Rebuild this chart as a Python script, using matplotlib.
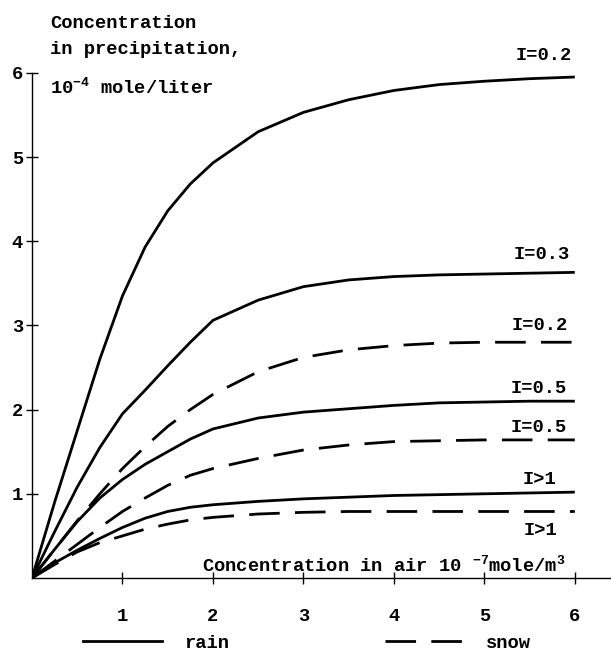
import matplotlib
matplotlib.use('Agg')
import matplotlib.pyplot as plt
from matplotlib.lines import Line2D

plt.rcParams['font.family'] = ['Liberation Mono', 'DejaVu Sans Mono']
plt.rcParams['font.weight'] = 'bold'
plt.rcParams['mathtext.default'] = 'regular'
plt.rcParams['lines.scale_dashes'] = False

# concentration in air (10^-7 mole/m^3)
x = [0, 0.25, 0.5, 0.75, 1, 1.25, 1.5, 1.75, 2, 2.5, 3, 3.5, 4, 4.5, 5, 5.5, 6]

# concentration in precipitation (10^-4 mole/liter)
rain_i02 = [0, 0.9, 1.75, 2.6, 3.35, 3.93, 4.36, 4.68, 4.93, 5.3, 5.53, 5.68, 5.79, 5.86, 5.9, 5.93, 5.95]
rain_i03 = [0, 0.55, 1.08, 1.55, 1.95, 2.23, 2.52, 2.8, 3.06, 3.3, 3.46, 3.54, 3.58, 3.6, 3.61, 3.62, 3.63]
rain_i05 = [0, 0.34, 0.67, 0.95, 1.17, 1.35, 1.5, 1.65, 1.77, 1.9, 1.97, 2.01, 2.05, 2.08, 2.09, 2.1, 2.1]
rain_i1 = [0, 0.18, 0.33, 0.47, 0.6, 0.71, 0.79, 0.84, 0.87, 0.91, 0.94, 0.96, 0.98, 0.99, 1.0, 1.01, 1.02]
snow_i02 = [0, 0.34, 0.68, 1.0, 1.3, 1.56, 1.8, 2.0, 2.18, 2.45, 2.62, 2.71, 2.76, 2.79, 2.8, 2.8, 2.8]
snow_i05 = [0, 0.2, 0.4, 0.6, 0.79, 0.95, 1.1, 1.22, 1.3, 1.42, 1.52, 1.58, 1.62, 1.63, 1.64, 1.64, 1.64]
snow_i1 = [0, 0.16, 0.31, 0.42, 0.5, 0.58, 0.64, 0.69, 0.72, 0.76, 0.78, 0.79, 0.79, 0.79, 0.79, 0.79, 0.79]

# curve labels: text, x of right edge, y of baseline
curve_labels = [('I=0.2', 5.97, 6.15), ('I=0.3', 5.94, 3.79), ('I=0.2', 5.92, 2.95),
                ('I=0.5', 5.91, 2.2), ('I=0.5', 5.91, 1.73), ('I>1', 5.8, 1.12), ('I>1', 5.81, 0.51)]

fs = 13.5
lw = 2.0
dash = (0, (22, 11))

fig = plt.figure(figsize=(6.11, 6.53), dpi=100)
ax = fig.add_axes([32 / 611, 75 / 653, 579 / 611, 505.2 / 653])

for y in [rain_i02, rain_i03, rain_i05, rain_i1]:
    ax.plot(x, y, color='black', lw=lw, solid_capstyle='butt', solid_joinstyle='round')
for y in [snow_i02, snow_i05, snow_i1]:
    ax.plot(x, y, color='black', lw=lw, linestyle=dash)

for txt, xr, yb in curve_labels:
    ax.text(xr, yb, txt, fontsize=fs, ha='right', va='baseline')

ax.set_xlim(0, 6.4)
ax.set_ylim(0, 6)
ax.spines['top'].set_visible(False)
ax.spines['right'].set_visible(False)
ax.spines['left'].set_linewidth(1.0)
ax.spines['bottom'].set_linewidth(1.0)
ax.set_xticks([1, 2, 3, 4, 5, 6])
ax.set_yticks([1, 2, 3, 4, 5, 6])
ax.tick_params(axis='both', direction='inout', length=9, width=1.0, labelsize=fs)
ax.tick_params(axis='x', pad=17)
ax.tick_params(axis='y', pad=2)

# axis titles written inside the plot like the original
ax.text(0.2, 6.53, 'Concentration', fontsize=fs, va='baseline', clip_on=False)
ax.text(0.2, 6.22, 'in precipitation,', fontsize=fs, va='baseline', clip_on=False)
ax.text(0.2, 5.76, r'10$^{-4}$ mole/liter', fontsize=fs, va='baseline', clip_on=False)
ax.text(1.88, 0.083, r'Concentration in air 10 $^{-7}$mole/m$^{3}$', fontsize=fs, va='baseline')

handles = [Line2D([], [], color='black', lw=lw),
           Line2D([], [], color='black', lw=lw, linestyle=dash)]
fig.legend(handles, ['rain', 'snow'], loc='center left', bbox_to_anchor=(83 / 611, 1 - 643 / 653),
           ncol=2, frameon=False, fontsize=fs, handlelength=4.2, handletextpad=1.2,
           columnspacing=8.3, borderpad=0, borderaxespad=0)

fig.savefig('out.png', dpi=100)
